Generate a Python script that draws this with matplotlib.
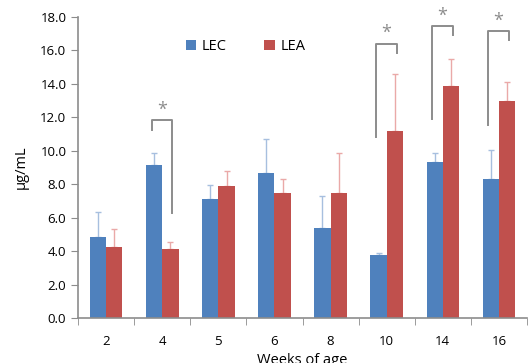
import numpy as np
import matplotlib.pyplot as plt

plt.rcParams['font.family'] = ['Open Sans', 'DejaVu Sans']

weeks = ['2', '4', '5', '6', '8', '10', '14', '16']
lec = [4.83, 9.15, 7.10, 8.65, 5.37, 3.74, 9.31, 8.33]
lec_err = [1.53, 0.73, 0.87, 2.05, 1.95, 0.17, 0.57, 1.69]
lea = [4.24, 4.12, 7.89, 7.46, 7.46, 11.18, 13.88, 12.98]
lea_err = [1.07, 0.45, 0.91, 0.84, 2.42, 3.44, 1.61, 1.12]

# significance brackets: group index, top, left leg end, right leg end
sig = [(1, 11.83, 11.24, 6.28),
       (5, 16.39, 10.83, 15.85),
       (6, 17.46, 11.93, 16.94),
       (7, 17.14, 11.57, 16.60)]

blue = '#4F81BD'
red = '#C0504D'
grey = '#8c8c8c'

fig = plt.figure(figsize=(5.28, 3.63), dpi=100)
ax = fig.add_axes([0.148, 0.124, 0.85, 0.829])

x = np.arange(len(weeks))
w = 0.29
ax.bar(x - w/2, lec, w, color=blue, label='LEC', zorder=2)
ax.bar(x + w/2, lea, w, color=red, label='LEA', zorder=2)
ax.errorbar(x - w/2, lec, yerr=[np.zeros(len(lec)), lec_err], fmt='none',
            ecolor='#a7bfdf', elinewidth=1, capsize=2, capthick=1, zorder=1)
ax.errorbar(x + w/2, lea, yerr=[np.zeros(len(lea)), lea_err], fmt='none',
            ecolor='#eaa9a8', elinewidth=1, capsize=2, capthick=1, zorder=1)

for i, top, lb, rb in sig:
    xl, xr = i - 0.19, i + 0.18
    ax.plot([xl, xl, xr, xr], [lb, top, top, rb], color=grey, lw=1.4, zorder=3)
    ax.text((xl + xr) / 2, top + 0.1, '*', ha='center', va='bottom',
            fontsize=13, color=grey)

ax.set_xlim(-0.5, 7.5)
ax.set_ylim(0, 18)
ax.set_yticks(np.arange(0, 18.1, 2))
ax.set_yticklabels(['%.1f' % v for v in np.arange(0, 18.1, 2)], fontsize=9.5)
ax.set_xticks(x)
ax.set_xticklabels(weeks, fontsize=9.5)
ax.set_xticks(np.arange(-0.5, 7.6, 1), minor=True)
ax.tick_params(axis='x', which='major', length=0, pad=12)
ax.tick_params(axis='x', which='minor', length=5, color=grey, direction='out')
ax.tick_params(axis='y', length=5, color=grey, direction='out')
for s in ['top', 'right']:
    ax.spines[s].set_visible(False)
for s in ['left', 'bottom']:
    ax.spines[s].set_color(grey)
    ax.spines[s].set_linewidth(1.2)

ax.set_xlabel('Weeks of age', fontsize=10.5, labelpad=4)
ax.set_ylabel('μg/mL', fontsize=10.5, labelpad=8)
ax.legend(loc='upper left', bbox_to_anchor=(0.21, 0.97), ncol=2, frameon=False,
          fontsize=10.5, handlelength=0.7, handleheight=0.7, handletextpad=0.4,
          columnspacing=2.6)

fig.savefig('out.png', dpi=100)
